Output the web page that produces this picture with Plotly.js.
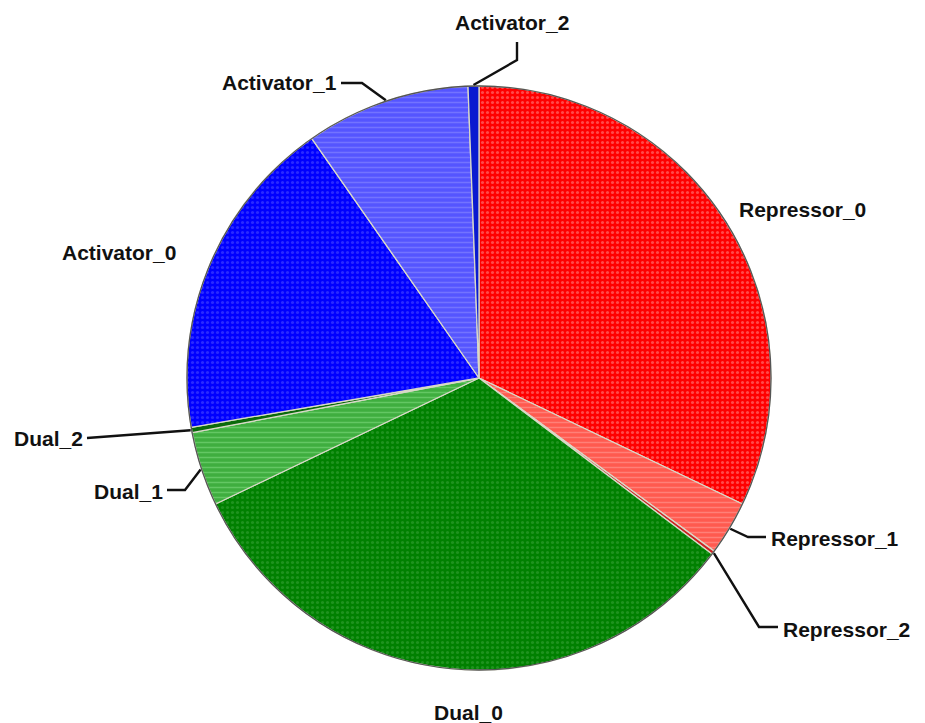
<!DOCTYPE html>
<html>
<head>
<meta charset="utf-8">
<script src="https://cdn.plot.ly/plotly-3.0.1.min.js"></script>
<style>html,body{margin:0;padding:0;background:#fff;}#chart{width:925px;height:723px;}</style>
</head>
<body>
<div id="chart"></div>
<script>
// ---- data ----
const labels = ["Repressor_0","Repressor_1","Repressor_2","Dual_0","Dual_1","Dual_2","Activator_0","Activator_1","Activator_2"];
const values = [32.1, 3.0, 0.2, 32.6, 4.1, 0.3, 18.0, 9.1, 0.6];
const colors = ["#ff0000","#ff5a4f","#cc2020","#008000","#3fae3f","#0b6a0b","#0000ff","#5555ff","#0a1ad0"];
const patternColors = ["#ff4a4a","#ff8078","#cc2020","#1f931f","#63c763","#0b6a0b","#2a2aff","#7373ff","#0a1ad0"];

// ---- layout config (pixels) ----
const W = 925, H = 723, CX = 479, CY = 378, R = 292;
const labelCfg = {
  "Repressor_0": {x: 737, y: 209, anchor: "left", path: null},
  "Repressor_1": {x: 769, y: 538, anchor: "left", path: [[748,537],[766,537]]},
  "Repressor_2": {x: 781, y: 629, anchor: "left", path: [[759,627],[778,627]]},
  "Dual_0":      {x: 468, y: 712, anchor: "center", path: null},
  "Dual_1":      {x: 165, y: 491, anchor: "right", path: [[185,490],[167,490]]},
  "Dual_2":      {x: 85,  y: 439, anchor: "right", path: [[87,438]]},
  "Activator_0": {x: 119, y: 253, anchor: "center", path: null},
  "Activator_1": {x: 339, y: 82,  anchor: "right", path: [[362,83],[341,83]]},
  "Activator_2": {x: 512, y: 22,  anchor: "center", path: [[517,60],[517,42]]}
};

const px2x = p => p / W;
const py2y = p => 1 - p / H;

const total = values.reduce((a, b) => a + b, 0);
let cum = 0;
const shapes = [];
const annotations = [];
labels.forEach((lab, i) => {
  const mid = (cum + values[i] / 2) / total * 2 * Math.PI;
  cum += values[i];
  const cfg = labelCfg[lab];
  if (cfg.path) {
    const ex = CX + (R + 1) * Math.sin(mid);
    const ey = CY - (R + 1) * Math.cos(mid);
    const pts = [[ex, ey]].concat(cfg.path);
    const d = pts.map((p, k) => (k ? "L" : "M") + px2x(p[0]).toFixed(5) + "," + py2y(p[1]).toFixed(5)).join(" ");
    shapes.push({type: "path", xref: "paper", yref: "paper", path: d, line: {color: "#111", width: 2.4}});
  }
  annotations.push({
    text: lab, xref: "paper", yref: "paper", x: px2x(cfg.x), y: py2y(cfg.y),
    xanchor: cfg.anchor, yanchor: "middle", showarrow: false,
    font: {family: "Liberation Sans, Arial, sans-serif", size: 21, color: "#111", weight: "bold"}
  });
});

shapes.push({type: "circle", xref: "paper", yref: "paper",
  x0: px2x(CX - R), x1: px2x(CX + R), y0: py2y(CY + R), y1: py2y(CY - R),
  line: {color: "#555", width: 1.3}, layer: "above"});

const trace = {
  type: "pie",
  labels: labels,
  values: values,
  sort: false,
  direction: "clockwise",
  rotation: 0,
  textinfo: "none",
  hoverinfo: "label+percent",
  marker: {
    colors: colors,
    line: {color: "#d9d9c8", width: 1.3},
    pattern: {
      shape: [".", "-", "", ".", "-", "", ".", "-", ""],
      fgcolor: patternColors,
      bgcolor: colors,
      size: 5,
      solidity: 0.3
    }
  },
  domain: {x: [px2x(CX - R), px2x(CX + R)], y: [py2y(CY + R), py2y(CY - R)]},
  showlegend: false
};

Plotly.newPlot("chart", [trace], {
  width: W, height: H,
  margin: {l: 0, r: 0, t: 0, b: 0},
  paper_bgcolor: "#ffffff",
  showlegend: false,
  shapes: shapes,
  annotations: annotations
}, {displayModeBar: false, staticPlot: true});
</script>
</body>
</html>
